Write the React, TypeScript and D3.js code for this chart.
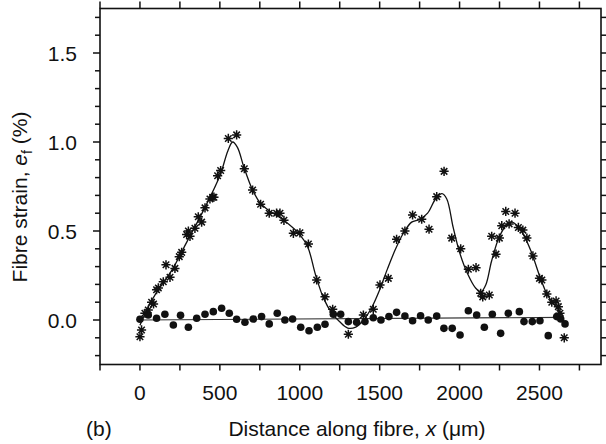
import React from "react";
import * as d3 from "d3";

// Asterisk series (strained fibre)
const strainX = [0, 10, 31, 52, 73, 85, 104, 115, 146, 163, 188, 219, 246, 261, 292, 303, 313, 344, 365, 386, 407, 438, 455, 463, 486, 505, 553, 605, 653, 705, 755, 809, 855, 876, 901, 960, 1001, 1054, 1106, 1158, 1206, 1304, 1398, 1460, 1502, 1554, 1606, 1658, 1706, 1763, 1809, 1857, 1903, 1951, 2007, 2055, 2103, 2132, 2145, 2186, 2201, 2228, 2249, 2264, 2289, 2310, 2347, 2368, 2396, 2421, 2459, 2500, 2515, 2546, 2577, 2604, 2618, 2628, 2655];
const strainY = [-0.094, -0.056, 0.038, 0.056, 0.1, 0.09, 0.17, 0.18, 0.215, 0.31, 0.24, 0.29, 0.356, 0.38, 0.48, 0.5, 0.47, 0.515, 0.58, 0.55, 0.63, 0.68, 0.69, 0.69, 0.81, 0.84, 1.02, 1.04, 0.85, 0.73, 0.65, 0.6, 0.6, 0.6, 0.56, 0.487, 0.49, 0.427, 0.225, 0.13, 0.06, -0.08, 0.028, 0.06, 0.197, 0.234, 0.453, 0.5, 0.59, 0.566, 0.51, 0.693, 0.835, 0.46, 0.4, 0.285, 0.294, 0.15, 0.13, 0.14, 0.47, 0.37, 0.46, 0.53, 0.61, 0.54, 0.6, 0.52, 0.505, 0.46, 0.36, 0.234, 0.225, 0.146, 0.1, 0.107, 0.075, 0.038, -0.1];

// Filled-circle series (unstrained)
const unloadedX = [0, 52, 104, 156, 209, 254, 303, 355, 407, 459, 511, 559, 605, 657, 709, 761, 809, 859, 907, 955, 1006, 1058, 1110, 1158, 1210, 1256, 1304, 1356, 1408, 1460, 1508, 1558, 1606, 1658, 1706, 1756, 1804, 1857, 1902, 1954, 2003, 2055, 2107, 2155, 2205, 2257, 2305, 2374, 2403, 2455, 2503, 2555, 2608, 2633, 2660];
const unloadedY = [0.004, 0.028, 0.01, 0.032, -0.028, 0.026, -0.041, 0.01, 0.032, 0.047, 0.066, 0.038, 0.004, -0.013, 0.006, 0.019, -0.022, 0.038, 0.0, 0.006, -0.041, -0.06, -0.041, -0.024, 0.032, 0.032, -0.009, -0.013, -0.009, 0.013, 0.0, 0.019, 0.043, 0.022, -0.004, 0.024, 0.0, 0.022, -0.047, -0.047, -0.084, 0.052, 0.028, -0.041, 0.032, -0.075, 0.038, 0.047, -0.009, -0.009, -0.004, -0.088, 0.019, 0.006, -0.022];

// Fitted curve through the asterisks
const fitX = [0, 50, 100, 200, 300, 400, 500, 550, 580, 610, 650, 700, 750, 800, 900, 1000, 1050, 1100, 1150, 1200, 1250, 1300, 1350, 1400, 1450, 1500, 1550, 1600, 1650, 1700, 1750, 1800, 1850, 1890, 1920, 1960, 2000, 2050, 2100, 2135, 2165, 2200, 2250, 2300, 2330, 2360, 2400, 2450, 2500, 2550, 2600, 2650];
const fitY = [-0.03, 0.07, 0.15, 0.28, 0.45, 0.62, 0.81, 0.95, 1.0, 0.97, 0.86, 0.74, 0.66, 0.62, 0.56, 0.48, 0.41, 0.25, 0.12, 0.04, -0.01, -0.045, -0.04, 0.0, 0.07, 0.17, 0.29, 0.4, 0.49, 0.55, 0.565, 0.6, 0.68, 0.71, 0.68, 0.52, 0.38, 0.26, 0.18, 0.16, 0.2, 0.33, 0.47, 0.54, 0.55, 0.53, 0.48, 0.38, 0.25, 0.14, 0.08, 0.02];

// Baseline through the circles
const baseX = [0, 2650];
const baseY = [0.0, 0.015];

const xTicks = [-250, 0, 250, 500, 750, 1000, 1250, 1500, 1750, 2000, 2250, 2500, 2750];
const xLabels = [0, 500, 1000, 1500, 2000, 2500];
const yTicks = d3.range(-0.2, 1.71, 0.1).map((v) => Math.round(v * 10) / 10);
const yLabels = [0.0, 0.5, 1.0, 1.5];

const FONT = "'Liberation Sans', Arial, Helvetica, sans-serif";

export default function App() {
  const x = d3.scaleLinear().domain([-250, 2885]).range([100, 601]);
  const y = d3.scaleLinear().domain([-0.25, 1.75]).range([364.5, 8.5]);
  const x0 = x(-250), x1 = x(2885), y0 = y(-0.25), y1 = y(1.75);

  const fitLine = d3
    .line<number>()
    .x((_, i) => x(fitX[i]))
    .y((d) => y(d))
    .curve(d3.curveCatmullRom.alpha(0.5));
  const baseLine = d3
    .line<number>()
    .x((_, i) => x(baseX[i]))
    .y((d) => y(d));

  const r = 4.6;
  const dd = r * 0.707;
  const star = `M${-r},0H${r}M0,${-r}V${r}M${-dd},${-dd}L${dd},${dd}M${-dd},${dd}L${dd},${-dd}`;

  return (
    <svg
      width={606}
      height={444}
      style={{ position: "absolute", left: 0, top: 0, background: "#fff" }}
      fontFamily={FONT}
    >
      <rect x={0} y={0} width={606} height={444} fill="#fff" />
      {/* frame */}
      <rect x={x0} y={y1} width={x1 - x0} height={y0 - y1} fill="none" stroke="#111" strokeWidth={1.6} />
      {/* bottom & top ticks */}
      {xTicks.map((t) => (
        <g key={"xt" + t}>
          <line x1={x(t)} x2={x(t)} y1={y0} y2={y0 + 6} stroke="#111" strokeWidth={1.5} />
          <line x1={x(t)} x2={x(t)} y1={y1} y2={y1 - 7} stroke="#111" strokeWidth={1.5} />
        </g>
      ))}
      {xLabels.map((t) => (
        <text key={"xl" + t} x={x(t)} y={400} textAnchor="middle" fontSize={21} fill="#111">
          {t}
        </text>
      ))}
      {/* left & right ticks */}
      {yTicks.map((t) => {
        const major = yLabels.some((l) => Math.abs(l - t) < 1e-6);
        return (
          <g key={"yt" + t}>
            <line x1={x0 - (major ? 7 : 5)} x2={x0} y1={y(t)} y2={y(t)} stroke="#111" strokeWidth={1.5} />
            <line x1={x1} x2={x1 + 5} y1={y(t)} y2={y(t)} stroke="#111" strokeWidth={1.5} />
          </g>
        );
      })}
      {yLabels.map((t) => (
        <text key={"yl" + t} x={77} y={y(t)} dy="0.36em" textAnchor="end" fontSize={21} fill="#111">
          {t.toFixed(1)}
        </text>
      ))}
      {/* axis titles */}
      <text x={86} y={436} fontSize={21} fill="#111">(b)</text>
      <text x={357} y={436} textAnchor="middle" fontSize={21} fill="#111">
        Distance along fibre, <tspan fontStyle="italic">x</tspan> (μm)
      </text>
      <text transform="translate(27,197) rotate(-90)" textAnchor="middle" fontSize={21} fill="#111">
        Fibre strain, <tspan fontStyle="italic">e</tspan>
        <tspan fontSize={14} dy={5}>f</tspan>
        <tspan dy={-5}> (%)</tspan>
      </text>
      {/* lines */}
      <path d={baseLine(baseY) || ""} fill="none" stroke="#333" strokeWidth={1.1} />
      <path d={fitLine(fitY) || ""} fill="none" stroke="#111" strokeWidth={1.3} />
      {/* circles */}
      {unloadedX.map((v, i) => (
        <circle key={"c" + i} cx={x(v)} cy={y(unloadedY[i])} r={3.8} fill="#111" />
      ))}
      {/* asterisks */}
      {strainX.map((v, i) => (
        <path
          key={"s" + i}
          d={star}
          transform={`translate(${x(v)},${y(strainY[i])})`}
          fill="none"
          stroke="#111"
          strokeWidth={1.5}
        />
      ))}
    </svg>
  );
}
